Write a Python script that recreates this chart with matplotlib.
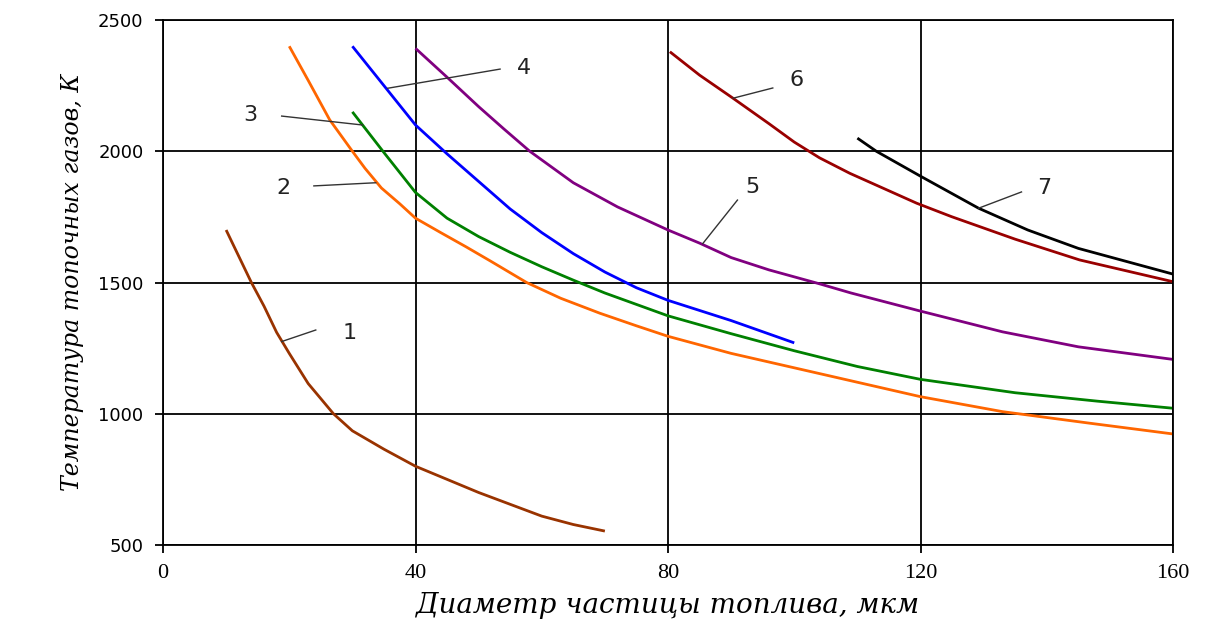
import matplotlib
matplotlib.use("Agg")
import matplotlib.pyplot as plt

# ---- data ----
x1 = [10, 12, 14, 16, 18, 20, 23, 27, 30, 35, 40, 45, 50, 55, 60, 65, 70]
y1 = [1700, 1600, 1500, 1410, 1310, 1230, 1115, 1000, 935, 865, 800, 750, 700, 655, 610, 578, 553]

x2 = [20, 23, 26.4, 30, 32, 34.6, 37.5, 40, 44, 48, 52, 57.6, 63, 69.2, 75, 80, 90, 100, 110, 120, 133, 146.8, 160]
y2 = [2400, 2270, 2120, 2000, 1935, 1860, 1800, 1745, 1690, 1636, 1580, 1500, 1440, 1383, 1335, 1295, 1230, 1175, 1120, 1065, 1008, 964, 923]

x3 = [30, 35, 40, 45, 50, 55, 60, 65, 70, 80, 90, 100, 110, 120, 135, 148, 160]
y3 = [2150, 1995, 1843, 1745, 1675, 1615, 1560, 1509, 1460, 1373, 1305, 1240, 1180, 1131, 1080, 1048, 1021]

x4 = [30, 35, 40, 45, 50, 55, 60, 65, 70, 75, 80, 90, 100]
y4 = [2400, 2250, 2100, 1990, 1885, 1780, 1690, 1610, 1540, 1480, 1432, 1355, 1270]

x5 = [40, 45, 50, 54, 58.1, 65, 72, 80, 85, 90, 96, 104, 109, 120, 133, 145, 160]
y5 = [2392, 2282, 2170, 2085, 2000, 1880, 1788, 1700, 1650, 1595, 1548, 1495, 1460, 1391, 1312, 1255, 1207]

x6 = [80.3, 85, 90.3, 96, 100, 104, 108.8, 119.4, 124.9, 135, 145.2, 160]
y6 = [2379, 2290, 2202, 2105, 2035, 1975, 1916, 1802, 1751, 1665, 1586, 1503]

x7 = [110, 113, 120, 129.2, 137, 145, 160]
y7 = [2050, 2000, 1905, 1783, 1700, 1630, 1532]

curve_labels = ["1", "2", "3", "4", "5", "6", "7"]
label_pos = [(29.6, 1307), (19.1, 1860), (13.9, 2138), (57.2, 2317), (93.3, 1864), (100.4, 2271), (139.6, 1860)]
leader_start = [(24.2, 1319), (23.9, 1868), (18.8, 2134), (53.4, 2313), (91.0, 1814), (96.6, 2241), (136.0, 1845)]
leader_end = [(18.8, 1275), (33.7, 1880), (31.6, 2100), (35.6, 2240), (85.5, 1648), (90.3, 2202), (129.2, 1783)]

x_ticks = [0, 40, 80, 120, 160]
y_ticks = [500, 1000, 1500, 2000, 2500]

xs = [x1, x2, x3, x4, x5, x6, x7]
ys = [y1, y2, y3, y4, y5, y6, y7]
colors = ["#993300", "#FF6600", "#008000", "#0000FF", "#800080", "#990000", "#000000"]

fig = plt.figure(figsize=(12.17, 6.30), dpi=100)
ax = fig.add_axes([163 / 1217, 1 - 545 / 630, (1173 - 163) / 1217, (545 - 20) / 630])

ax.set_xlim(0, 160)
ax.set_ylim(500, 2500)
ax.set_xticks(x_ticks)
ax.set_yticks(y_ticks)
ax.grid(True, color="black", linewidth=1.3)
ax.set_axisbelow(True)
for s in ax.spines.values():
    s.set_color("black")
    s.set_linewidth(1.3)

for x, y, c in zip(xs, ys, colors):
    ax.plot(x, y, color=c, linewidth=2.0, solid_capstyle="butt", solid_joinstyle="round")

for lab, (tx, ty), (sx, sy), (ex, ey) in zip(curve_labels, label_pos, leader_start, leader_end):
    ax.plot([sx, ex], [sy, ey], color="#333333", linewidth=1.0)
    ax.text(tx, ty, lab, ha="center", va="center", fontsize=16, family="DejaVu Sans", color="#222222")

ax.tick_params(axis="x", direction="out", length=6, width=1.3, pad=8)
ax.tick_params(axis="y", direction="out", length=6, width=1.3, pad=8)
for t in ax.get_xticklabels():
    t.set_family("Liberation Serif")
    t.set_fontsize(16)
for t in ax.get_yticklabels():
    t.set_family("DejaVu Sans")
    t.set_fontsize(13)

ax.set_xlabel("Диаметр частицы топлива, мкм", fontsize=20, family="DejaVu Serif",
              style="italic", labelpad=6)
ax.set_ylabel("Температура топочных газов, К", fontsize=17, family="DejaVu Serif",
              style="italic", labelpad=10)

fig.savefig("out.png", dpi=100)
